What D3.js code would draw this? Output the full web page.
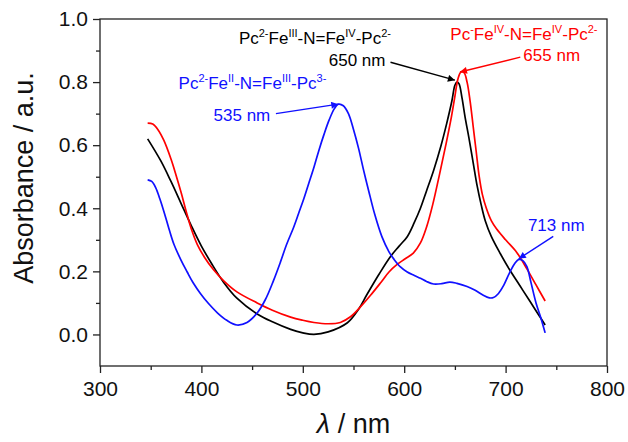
<!DOCTYPE html>
<html><head><meta charset="utf-8">
<script src="https://cdn.jsdelivr.net/npm/d3@7"></script>
<style>
body{margin:0;background:#fff}
svg{display:block}
text{font-family:"Liberation Sans",Arial,Helvetica,sans-serif}
</style>
</head><body>
<svg id="chart" width="628" height="442"></svg>
<script>
// ---------- data ----------
const blackNm  = [347,360,370,380,390,400,410,422,435,455,470,488,500,511,525,544,555,563,575,586,595,603,610,616,622,629,636,642,647,650,652,654,657,660,664,668,672,676,680,686,695,704,714,724,732,739];
const blackAbs = [0.62,0.55,0.485,0.415,0.345,0.28,0.225,0.165,0.115,0.065,0.04,0.016,0.005,0.0,0.008,0.037,0.08,0.125,0.19,0.245,0.28,0.31,0.355,0.40,0.455,0.52,0.595,0.67,0.74,0.79,0.80,0.795,0.75,0.69,0.62,0.545,0.47,0.41,0.36,0.31,0.255,0.205,0.155,0.105,0.065,0.03];

const redNm  = [347,352,357,363,370,375,380,385,390,396,403,412,422,435,455,470,488,500,511,525,537,547,557,567,577,585,593,601,609,616,622,628,635,641,646,650,653,656,659,662,665,668,671,674,677,681,686,691,700,711,721,730,739];
const redAbs = [0.67,0.667,0.65,0.615,0.556,0.505,0.45,0.39,0.335,0.285,0.245,0.205,0.17,0.135,0.10,0.077,0.055,0.045,0.038,0.034,0.038,0.056,0.088,0.125,0.165,0.198,0.222,0.24,0.258,0.29,0.34,0.41,0.51,0.60,0.68,0.755,0.81,0.832,0.83,0.80,0.74,0.66,0.58,0.50,0.445,0.40,0.36,0.335,0.30,0.26,0.208,0.157,0.106];

const blueNm  = [347,351,355,359,363,368,373,380,386,392,399,407,416,425,435,445,455,463,471,478,484,491,496,501,506,511,516,521,526,531,535,540,545,550,555,560,565,571,578,585,590,596,603,610,616,622,629,637,645,652,662,670,678,684,688,693,698,704,709,713,717,721,725,730,735,739];
const blueAbs = [0.49,0.485,0.465,0.43,0.39,0.335,0.285,0.235,0.198,0.163,0.13,0.098,0.068,0.045,0.03,0.038,0.068,0.11,0.17,0.23,0.285,0.34,0.385,0.43,0.48,0.53,0.585,0.635,0.68,0.715,0.73,0.725,0.70,0.65,0.59,0.52,0.455,0.38,0.31,0.262,0.238,0.215,0.198,0.187,0.178,0.168,0.16,0.161,0.166,0.162,0.152,0.14,0.124,0.116,0.117,0.13,0.155,0.196,0.225,0.238,0.234,0.215,0.165,0.10,0.05,0.005];

const xTickValues = [300,400,500,600,700,800];
const xMinorTicks = [350,450,550,650,750];
const yTickValues = [0.0,0.2,0.4,0.6,0.8,1.0];
const yMinorTicks = [0.1,0.3,0.5,0.7,0.9];

const xTitle = "/ nm";
const yTitle = "Absorbance / a.u.";

const peakLabels = ["535 nm","650 nm","655 nm","713 nm"];
const peakNm     = [535, 650, 655, 713];
const peakAbs    = [0.73, 0.806, 0.832, 0.24];

// formula labels as [text, isSuperscript] segments
const blackFormula = [["Pc",0],["2-",1],["Fe",0],["III",1],["-N=Fe",0],["IV",1],["-Pc",0],["2-",1]];
const redFormula   = [["Pc",0],["-",1],["Fe",0],["IV",1],["-N=Fe",0],["IV",1],["-Pc",0],["2-",1]];
const blueFormula  = [["Pc",0],["2-",1],["Fe",0],["II",1],["-N=Fe",0],["III",1],["-Pc",0],["3-",1]];

// ---------- chart ----------
const svg = d3.select("#chart");
const L = 100, R = 607, T = 19, B = 366;
const x = d3.scaleLinear().domain([300, 800]).range([L, R]);
const y = d3.scaleLinear().domain([-0.1, 1.0]).range([B, T]);

const axisColor = "#222";

const gx = svg.append("g").attr("transform", `translate(0,${B})`)
  .call(d3.axisBottom(x).tickValues(xTickValues).tickFormat(d3.format("d")).tickSize(7).tickPadding(8));
const gxm = svg.append("g").attr("transform", `translate(0,${B})`)
  .call(d3.axisBottom(x).tickValues(xMinorTicks).tickFormat("").tickSize(4));
const gy = svg.append("g").attr("transform", `translate(${L},0)`)
  .call(d3.axisLeft(y).tickValues(yTickValues).tickFormat(d3.format(".1f")).tickSize(7).tickPadding(5));
const gym = svg.append("g").attr("transform", `translate(${L},0)`)
  .call(d3.axisLeft(y).tickValues(yMinorTicks).tickFormat("").tickSize(4));

[gx, gxm, gy, gym].forEach(g => {
  g.select(".domain").remove();
  g.selectAll(".tick line").attr("stroke", axisColor).attr("stroke-width", 1.3);
  g.selectAll(".tick text").attr("fill", "#111").attr("font-size", 21)
    .attr("font-family", '"Liberation Sans",Arial,sans-serif');
});

svg.append("rect").attr("x", L).attr("y", T).attr("width", R - L).attr("height", B - T)
  .attr("fill", "none").attr("stroke", axisColor).attr("stroke-width", 1.3);

const xt = svg.append("text").attr("x", (L + R) / 2).attr("y", 433).attr("text-anchor", "middle")
  .attr("font-size", 27).attr("fill", "#111");
xt.append("tspan").attr("font-style", "italic").text("\u03BB");
xt.append("tspan").text(" " + xTitle);

svg.append("text").attr("transform", "translate(33,178) rotate(-90)").attr("text-anchor", "middle")
  .attr("font-size", 27).attr("fill", "#111").text(yTitle);

const line = d3.line().x(d => x(d[0])).y(d => y(d[1])).curve(d3.curveCatmullRom.alpha(0.5));
const series = [
  {nm: blackNm, abs: blackAbs, color: "#000000"},
  {nm: redNm,   abs: redAbs,   color: "#ff0000"},
  {nm: blueNm,  abs: blueAbs,  color: "#1010ff"}
];
series.forEach(s => {
  svg.append("path").datum(s.nm.map((v, i) => [v, s.abs[i]]))
    .attr("d", line).attr("fill", "none").attr("stroke", s.color)
    .attr("stroke-width", 1.7).attr("stroke-linejoin", "round");
});

const defs = svg.append("defs");
function marker(id, color) {
  defs.append("marker").attr("id", id).attr("viewBox", "0 0 10 10")
    .attr("refX", 10).attr("refY", 5).attr("markerWidth", 9).attr("markerHeight", 7)
    .attr("markerUnits", "userSpaceOnUse").attr("orient", "auto")
    .append("path").attr("d", "M0,0 L10,5 L0,10 Z").attr("fill", color);
}
marker("mk-black", "#000000");
marker("mk-red", "#ff0000");
marker("mk-blue", "#1010ff");

function arrow(x0, y0, x1, y1, color, id) {
  svg.append("line").attr("x1", x(x0)).attr("y1", y(y0)).attr("x2", x(x1)).attr("y2", y(y1))
    .attr("stroke", color).attr("stroke-width", 1.4).attr("marker-end", `url(#${id})`);
}

function richText(segs, px, py, color, anchor) {
  const t = svg.append("text").attr("x", px).attr("y", py).attr("fill", color)
    .attr("font-size", 17).attr("text-anchor", anchor || "start");
  let up = false;
  segs.forEach(([str, sup]) => {
    const sp = t.append("tspan").text(str);
    if (sup && !up) { sp.attr("dy", -7).attr("font-size", 11); up = true; }
    else if (sup) { sp.attr("font-size", 11); }
    else if (!sup && up) { sp.attr("dy", 7); up = false; }
  });
  return t;
}
function plainText(str, px, py, color, anchor) {
  svg.append("text").attr("x", px).attr("y", py).attr("fill", color)
    .attr("font-size", 17).attr("text-anchor", anchor || "start").text(str);
}

richText(blackFormula, x(437), y(0.921), "#000000");
plainText(peakLabels[1], x(581.5), y(0.852), "#000000", "end");
arrow(586.5, 0.863, peakNm[1], peakAbs[1], "#000000", "mk-black");

richText(redFormula, x(645.5), y(0.933), "#ff0000");
plainText(peakLabels[2], x(717.5), y(0.868), "#ff0000");
arrow(714.5, 0.879, peakNm[2], peakAbs[2], "#ff0000", "mk-red");

richText(blueFormula, x(377.5), y(0.778), "#1010ff");
plainText(peakLabels[0], x(412), y(0.677), "#1010ff");
arrow(473.5, 0.70, peakNm[0], peakAbs[0], "#1010ff", "mk-blue");

plainText(peakLabels[3], x(722), y(0.327), "#1010ff");
arrow(747, 0.311, peakNm[3], peakAbs[3], "#1010ff", "mk-blue");
</script>
</body></html>
